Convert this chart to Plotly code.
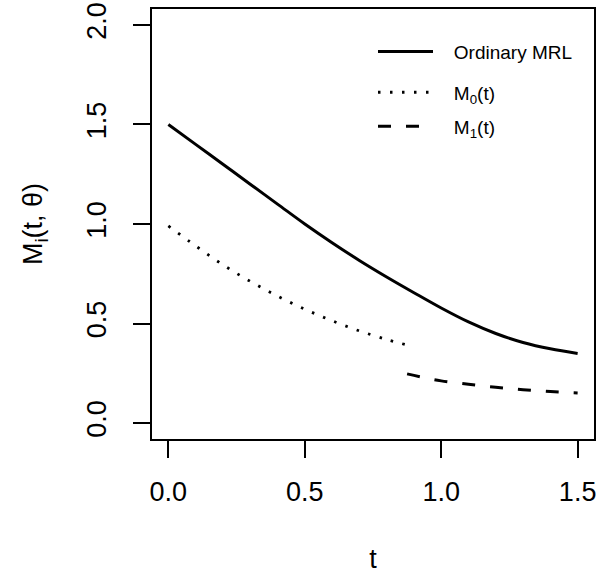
import plotly.graph_objects as go

# Data
t_ord = [0.0, 0.1, 0.2, 0.3, 0.4, 0.5, 0.6, 0.7, 0.8, 0.9, 1.0, 1.1, 1.2, 1.3, 1.4, 1.5]
m_ord = [1.50, 1.40, 1.30, 1.20, 1.10, 1.00, 0.906, 0.817, 0.734, 0.655, 0.578, 0.508, 0.450, 0.405, 0.373, 0.35]

t_m0 = [0.0, 0.1, 0.2, 0.3, 0.4, 0.5, 0.6, 0.7, 0.8, 0.875]
m_m0 = [0.99, 0.89, 0.795, 0.712, 0.638, 0.572, 0.514, 0.463, 0.420, 0.392]

t_m1 = [0.875, 0.95, 1.0, 1.1, 1.2, 1.3, 1.4, 1.5]
m_m1 = [0.247, 0.224, 0.212, 0.195, 0.180, 0.168, 0.158, 0.151]

x_ticks = [0.0, 0.5, 1.0, 1.5]
x_ticklabels = ["0.0", "0.5", "1.0", "1.5"]
y_ticks = [0.0, 0.5, 1.0, 1.5, 2.0]
y_ticklabels = ["0.0", "0.5", "1.0", "1.5", "2.0"]

FONT = "Liberation Sans, Arial, Helvetica, sans-serif"
PAD = "\u00a0\u00a0\u00a0"

fig = go.Figure()
fig.add_trace(go.Scatter(x=t_ord, y=m_ord, mode="lines", name=PAD + "Ordinary MRL",
                         line=dict(color="black", width=3, shape="spline"),
                         legend="legend"))
fig.add_trace(go.Scatter(x=t_m0, y=m_m0, mode="lines", name=PAD + "M<sub>0</sub>(t)",
                         line=dict(color="black", width=2.8, dash="2.5px,9.5px", shape="spline"),
                         legend="legend2"))
fig.add_trace(go.Scatter(x=t_m1, y=m_m1, mode="lines", name=PAD + "M<sub>1</sub>(t)",
                         line=dict(color="black", width=3, dash="13px,15px", shape="spline"),
                         legend="legend3"))

leg_common = dict(x=0.5, xanchor="left", yanchor="middle", bgcolor="rgba(0,0,0,0)",
                  font=dict(family=FONT, size=19, color="black"), itemwidth=55,
                  borderwidth=0)

fig.update_layout(
    width=598, height=574,
    margin=dict(l=152, r=4, t=9, b=135),
    paper_bgcolor="white", plot_bgcolor="white",
    font=dict(family=FONT, color="black"),
    showlegend=True,
    legend=dict(y=0.9007, **leg_common),
    legend2=dict(y=0.806, **leg_common),
    legend3=dict(y=0.727, **leg_common),
    xaxis=dict(range=[-0.06, 1.56], tickvals=x_ticks, ticktext=x_ticklabels,
               showgrid=False, zeroline=False, showline=True, linecolor="black",
               linewidth=1.5, mirror=True, ticks="outside", ticklen=17, tickwidth=1.5,
               tickcolor="black", tickfont=dict(size=27, family=FONT),
               ticklabelstandoff=11, automargin=False,
               title=dict(text="t", font=dict(size=27, family=FONT), standoff=48)),
    yaxis=dict(range=[-0.08, 2.08], tickvals=y_ticks, ticktext=y_ticklabels,
               showgrid=False, zeroline=False, showline=True, linecolor="black",
               linewidth=1.5, mirror=True, ticks="outside", ticklen=17, tickwidth=1.5,
               tickcolor="black", tickangle=-90, tickfont=dict(size=27, family=FONT),
               ticklabelstandoff=16, automargin=False,
               title=dict(text="M<sub>i</sub>(t, θ)", font=dict(size=27, family=FONT), standoff=32)),
)

fig.write_html("out.html", config={"displayModeBar": False},
               post_script=["document.body.style.margin='0';document.body.style.padding='0';"])
